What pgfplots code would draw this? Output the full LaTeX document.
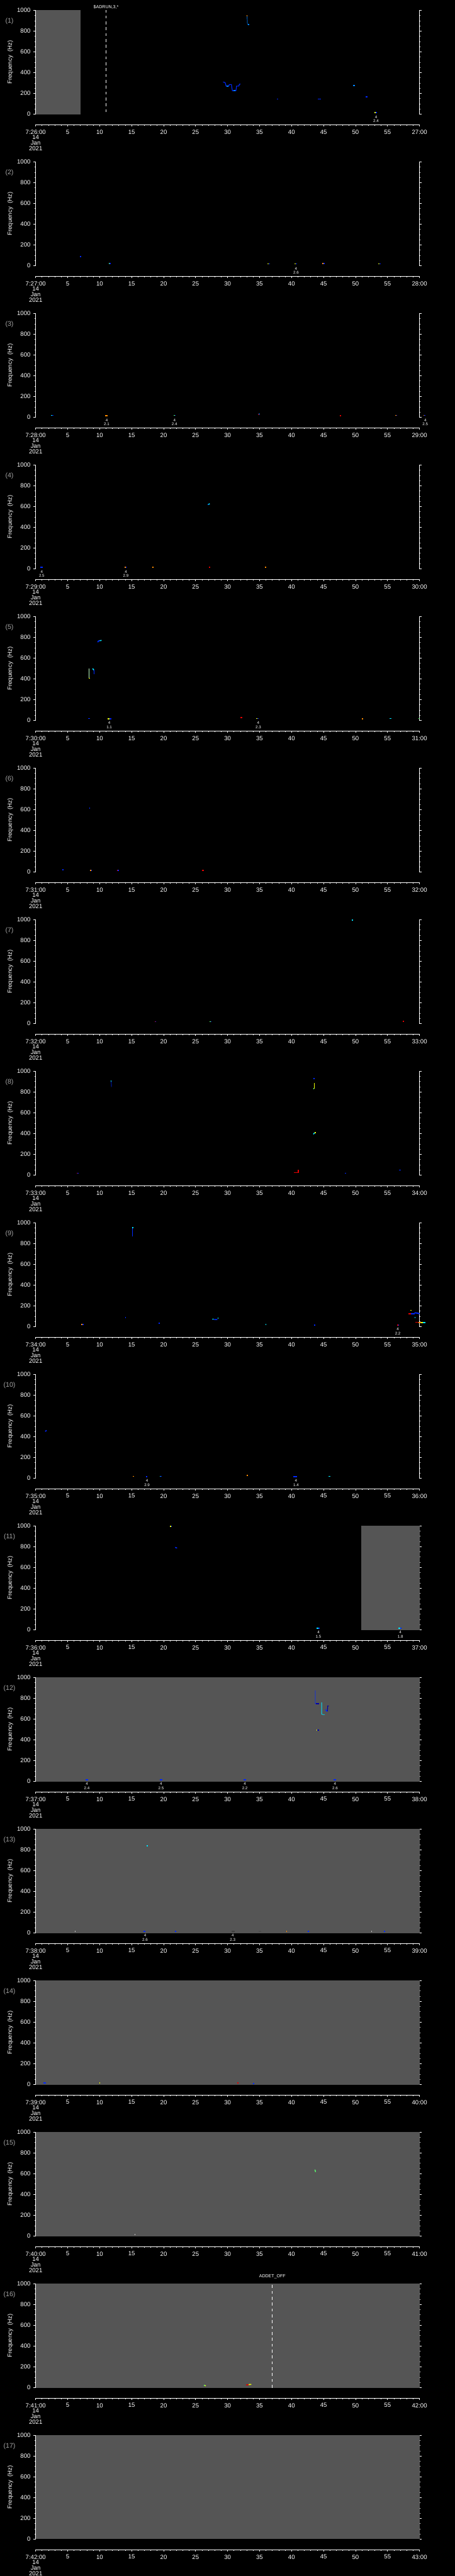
\documentclass[border=0pt]{standalone}
\usepackage{fontspec}
\setmainfont{Liberation Sans}
\usepackage{pgfplots}
\pgfplotsset{compat=1.18}
\definecolor{gray55}{RGB}{85,85,85}
\definecolor{pgray}{RGB}{165,165,165}
\definecolor{cblue}{RGB}{0,40,255}
\definecolor{cdblue}{RGB}{0,0,170}
\definecolor{clblue}{RGB}{0,130,255}
\definecolor{ccyan}{RGB}{0,230,255}
\definecolor{cgreen}{RGB}{90,255,110}
\definecolor{cyellow}{RGB}{235,255,0}
\definecolor{corange}{RGB}{255,140,0}
\definecolor{cred}{RGB}{225,0,0}
\tikzset{annot/.style={font=\fontsize{4.4}{4.7}\selectfont, text=white, align=center, anchor=north, inner sep=0pt, yshift=-1.3pt}}
\pgfplotsset{
  mainax/.style={scale only axis, width=432pt, height=117pt,
    xmin=0, xmax=60, ymin=0, ymax=1000,
    axis x line=none, axis y line=box,
    xtick=\empty, ytick={0,200,...,1000}, minor y tick num=3,
    ytick align=outside, yticklabel pos=left,
    axis line style={white, line width=0.6pt},
    every tick/.style={white, line width=0.6pt},
    major tick length=2.3pt, minor tick length=1.3pt,
    yticklabel style={font=\fontsize{6.8}{7}\selectfont, text=white, /pgf/number format/1000 sep={}},
    /pgf/number format/assume math mode=true,
    clip=false, anchor=north west,
    ylabel={Frequency\ \ (Hz)},
    every axis y label/.style={at={([xshift=-28.5pt]axis description cs:0,0.5)}, rotate=90, anchor=center, font=\fontsize{6.8}{7}\selectfont, text=white}},
  timeax/.style={scale only axis, width=432pt, height=1pt,
    xmin=0, xmax=60, ymin=0, ymax=1,
    axis x line*=bottom, axis y line=none,
    every outer x axis line/.append style={-},
    axis line style={white, line width=0.6pt, -},
    every tick/.style={white, line width=0.6pt},
    major tick length=2.3pt, minor tick length=1.3pt,
    xtick={0,5,...,60}, minor x tick num=4, xtick align=outside,
    xticklabel style={align=center, font=\fontsize{6.8}{6.2}\selectfont, text=white},
    anchor=south west},
}
\newcommand{\spk}[4]{\addplot[#1, line width=1.3pt, forget plot] coordinates {(#2,#4) (#3,#4)};}
\newcommand{\annot}[2]{\node[annot] at (axis cs:#1,0) {4\\#2};}
\newcommand{\pnum}[1]{\node[text=pgray, font=\fontsize{7.5}{8}\selectfont] at ([xshift=-29.5pt]axis description cs:0,0.893) {(#1)};}
\newcommand{\grayall}{\addplot[draw=none, fill=gray55, forget plot] coordinates {(0,1000) (60,1000)} \closedcycle;}
% #1 panel index, #2 start minute, #3 end minute, #4 content
\newcommand{\Panel}[4]{%
  \begin{axis}[mainax, at={(40.15pt,{-11.65pt-(#1-1)*170.68pt})}]
  #4
  \pnum{#1}
  \end{axis}
  \begin{axis}[timeax, at={(40.15pt,{-11.65pt-(#1-1)*170.68pt-128.75pt})},
    xticklabels={{7:#2:00\\14\\Jan\\2021},5,10,15,20,25,30,35,40,45,50,55,{#3:00}}]
  \addplot[draw=none, forget plot] coordinates {(0,0) (60,0)};
  \end{axis}}
\begin{document}
\begin{tikzpicture}
\path[use as bounding box] (0,0) rectangle (512pt,-2901pt);
\fill[black] (0,0) rectangle (512pt,-2901pt);
% ---------- panel 1
\Panel{1}{26}{27}{
  \addplot[draw=none, fill=gray55, forget plot] coordinates {(0,1000) (7.05,1000)} \closedcycle;
  \addplot[white, line width=0.5pt, dash pattern=on 3.3pt off 3.3pt] coordinates {(11,20) (11,1000)};
  \node[font=\fontsize{5}{5}\selectfont, text=white, inner sep=0pt] at ([yshift=3.8pt]axis cs:11,1000) {\$ADRUN,3,*};
  \addplot[clblue, line width=0.5pt] coordinates {(33.05,946) (33.1,864)};
  \spk{corange}{32.95}{33.05}{946}
  \spk{clblue}{33.15}{33.35}{864}
  \addplot[cblue, line width=0.8pt] coordinates {(29.3,310) (29.6,305) (29.7,290) (29.75,271) (30.2,271) (30.25,286) (30.6,286) (30.65,260) (30.75,226) (31.3,226) (31.4,271) (31.75,271) (31.85,289) (32.0,290)};
  \spk{clblue}{29.8}{30.1}{271}
  \spk{clblue}{30.9}{31.2}{226}
  \spk{cblue}{37.7}{37.9}{146}
  \spk{cblue}{44.1}{44.6}{146}
  \spk{clblue}{49.6}{49.9}{277}
  \spk{cblue}{51.6}{51.9}{169}
  \spk{cyellow}{53.0}{53.15}{14}
  \spk{cblue}{53.15}{53.3}{14}
  \annot{53.2}{2.4}
}
% ---------- panel 2
\Panel{2}{27}{28}{
  \spk{cblue}{6.9}{7.1}{90}
  \spk{cgreen}{11.4}{11.55}{21}
  \spk{cblue}{11.55}{11.7}{21}
  \spk{cyellow}{36.2}{36.4}{19}
  \spk{cblue}{36.4}{36.6}{19}
  \spk{cyellow}{40.5}{40.7}{19}
  \spk{cblue}{40.7}{40.9}{19}
  \spk{corange}{44.8}{45.0}{23}
  \spk{cblue}{45.0}{45.2}{23}
  \spk{cyellow}{53.5}{53.7}{19}
  \spk{cblue}{53.7}{53.9}{19}
  \annot{40.7}{2.6}
}
% ---------- panel 3
\Panel{3}{28}{29}{
  \spk{ccyan}{2.4}{2.6}{19}
  \spk{cblue}{2.6}{2.8}{19}
  \spk{corange}{10.9}{11.2}{15}
  \spk{cgreen}{21.6}{21.75}{19}
  \spk{cblue}{21.75}{21.9}{19}
  \addplot[cred, line width=1.1pt] coordinates {(34.8,26) (34.9,30)};
  \addplot[clblue, line width=1.1pt] coordinates {(34.9,30) (35.0,35)};
  \spk{cred}{47.5}{47.7}{15}
  \spk{corange}{56.2}{56.35}{19}
  \spk{cblue}{56.35}{56.5}{19}
  \spk{corange}{60.6}{60.75}{19}
  \spk{cblue}{60.75}{60.9}{19}
  \annot{11.1}{2.1}
  \annot{21.7}{2.4}
  \annot{60.9}{2.5}
}
% ---------- panel 4
\Panel{4}{29}{30}{
  \spk{cblue}{0.7}{1.1}{15}
  \spk{corange}{13.9}{14.05}{15}
  \spk{cblue}{14.05}{14.2}{15}
  \spk{corange}{18.2}{18.4}{15}
  \addplot[clblue, line width=1.1pt] coordinates {(26.9,619) (27.05,622)};
  \addplot[ccyan, line width=1.1pt] coordinates {(27.05,622) (27.2,628)};
  \spk{cred}{27.1}{27.3}{15}
  \spk{corange}{35.8}{36.0}{15}
  \annot{0.95}{2.5}
  \annot{14.1}{2.9}
}
% ---------- panel 5
\Panel{5}{30}{31}{
  \addplot[cgreen!40!white, line width=0.5pt] coordinates {(8.3,500) (8.3,406)};
  \spk{cyellow}{8.3}{8.5}{406}
  \addplot[ccyan, line width=1.1pt] coordinates {(8.9,500) (9.1,485)};
  \addplot[cblue, line width=0.6pt] coordinates {(9.1,485) (9.1,444)};
  \addplot[cblue, line width=1.1pt] coordinates {(9.7,753) (9.8,765) (10.0,768)};
  \addplot[ccyan, line width=1.1pt] coordinates {(10.0,768) (10.3,771)};
  \spk{cblue}{8.2}{8.5}{19}
  \spk{cyellow}{11.2}{11.5}{15}
  \spk{cblue}{11.5}{11.8}{15}
  \spk{cred}{32.0}{32.3}{26}
  \spk{cyellow}{34.5}{34.7}{19}
  \spk{cblue}{34.7}{34.9}{19}
  \spk{corange}{51.0}{51.15}{15}
  \spk{ccyan}{55.3}{55.6}{19}
  \spk{cgreen}{59.8}{60.0}{19}
  \annot{11.5}{1.1}
  \annot{34.8}{2.3}
}
% ---------- panel 6
\Panel{6}{31}{32}{
  \spk{cblue}{4.2}{4.4}{22}
  \spk{cblue}{8.35}{8.5}{615}
  \spk{corange}{8.5}{8.65}{15}
  \spk{cblue}{8.65}{8.8}{15}
  \spk{cred}{12.7}{12.85}{15}
  \spk{cblue}{12.85}{13.0}{15}
  \spk{cred}{26.0}{26.3}{15}
}
% ---------- panel 7
\Panel{7}{32}{33}{
  \spk{ccyan}{49.4}{49.6}{996}
  \spk{cred}{18.6}{18.7}{19}
  \spk{cblue}{18.7}{18.8}{19}
  \spk{cgreen}{27.2}{27.35}{19}
  \spk{cblue}{27.35}{27.5}{19}
  \spk{cred}{57.4}{57.6}{22}
}
% ---------- panel 8
\Panel{8}{33}{34}{
  \addplot[cblue, line width=0.5pt] coordinates {(11.8,910) (11.85,848)};
  \spk{ccyan}{11.7}{11.8}{905}
  \spk{cblue}{43.4}{43.6}{932}
  \addplot[cyellow, line width=0.7pt] coordinates {(43.55,887) (43.55,835)};
  \spk{cgreen}{43.4}{43.55}{835}
  \addplot[ccyan, line width=1.1pt] coordinates {(43.4,394) (43.6,407)};
  \spk{cyellow}{43.6}{43.8}{407}
  \addplot[cred, line width=0.8pt] coordinates {(40.4,24) (41.05,24) (41.05,49)};
  \spk{cred}{6.4}{6.55}{19}
  \spk{cblue}{6.55}{6.7}{19}
  \spk{cblue}{48.35}{48.5}{19}
  \spk{cblue}{56.8}{57.1}{49}
}
% ---------- panel 9
\Panel{9}{34}{35}{
  \addplot[cblue, line width=0.5pt] coordinates {(15.15,871) (15.15,953)};
  \spk{ccyan}{15.1}{15.25}{953}
  \spk{cblue}{13.95}{14.1}{89}
  \spk{corange}{7.1}{7.3}{22}
  \spk{cblue}{7.3}{7.5}{22}
  \spk{cblue}{19.2}{19.4}{32}
  \addplot[ccyan, line width=1.1pt] coordinates {(27.6,74) (27.9,74)};
  \addplot[cblue, line width=1.1pt] coordinates {(27.9,70) (28.4,69)};
  \spk{ccyan}{28.45}{28.6}{82}
  \spk{cred}{35.9}{35.97}{22}
  \spk{ccyan}{35.97}{36.05}{22}
  \spk{cblue}{43.5}{43.7}{15}
  \spk{cred}{56.5}{56.65}{15}
  \spk{cblue}{56.65}{56.8}{15}
  \spk{cyellow}{58.6}{58.8}{158}
  \spk{cred}{58.3}{58.7}{125}
  \spk{cblue}{58.7}{59.2}{125}
  \addplot[cblue, line width=1.3pt] coordinates {(59.2,134) (59.6,132) (60.0,125)};
  \spk{ccyan}{59.25}{59.35}{88}
  \spk{cred}{59.3}{59.8}{43}
  \spk{corange}{59.8}{60.2}{41}
  \spk{cyellow}{60.2}{60.5}{40}
  \spk{ccyan}{60.5}{60.9}{39}
  \annot{56.6}{2.2}
}
% ---------- panel 10
\Panel{10}{35}{36}{
  \addplot[cblue, line width=1.1pt] coordinates {(1.5,451) (1.7,461)};
  \spk{corange}{15.2}{15.4}{19}
  \spk{cblue}{17.2}{17.4}{15}
  \spk{ccyan}{19.4}{19.55}{19}
  \spk{cblue}{19.55}{19.7}{19}
  \spk{corange}{33.0}{33.2}{26}
  \spk{cblue}{40.3}{40.9}{15}
  \spk{ccyan}{45.8}{46.1}{19}
  \annot{17.4}{2.9}
  \annot{40.7}{1.4}
}
% ---------- panel 11
\Panel{11}{36}{37}{
  \addplot[draw=none, fill=gray55, forget plot] coordinates {(50.9,1000) (60,1000)} \closedcycle;
  \spk{cyellow}{21.0}{21.15}{996}
  \spk{cblue}{21.15}{21.3}{996}
  \addplot[cblue, line width=1.1pt] coordinates {(21.8,794) (22.1,787)};
  \spk{ccyan}{43.9}{44.15}{14}
  \spk{cblue}{44.15}{44.4}{14}
  \spk{ccyan}{56.7}{56.95}{14}
  \spk{cblue}{56.95}{57.2}{14}
  \annot{44.2}{1.5}
  \annot{57.0}{1.8}
}
% ---------- panel 12
\Panel{12}{37}{38}{
  \grayall
  \addplot[cblue, line width=0.6pt] coordinates {(43.7,876) (43.7,754) (43.8,746)};
  \spk{cdblue}{43.8}{44.3}{746}
  \addplot[ccyan, line width=0.6pt] coordinates {(44.7,761) (44.7,647) (44.9,643) (45.2,643)};
  \addplot[cblue, line width=1.1pt] coordinates {(45.3,690) (45.6,673)};
  \addplot[cdblue, line width=0.8pt] coordinates {(45.6,676) (45.65,726) (45.8,726)};
  \spk{cyellow}{43.9}{44.05}{494}
  \spk{cdblue}{44.05}{44.3}{494}
  \spk{cblue}{7.8}{8.2}{14}
  \spk{cblue}{19.4}{19.8}{14}
  \spk{cblue}{32.5}{32.9}{14}
  \spk{cblue}{46.6}{47.0}{14}
  \annot{8.0}{2.4}
  \annot{19.6}{2.5}
  \annot{32.7}{2.2}
  \annot{46.8}{2.6}
}
% ---------- panel 13
\Panel{13}{38}{39}{
  \grayall
  \spk{ccyan}{17.3}{17.5}{837}
  \spk{lightgray}{6.1}{6.25}{15}
  \spk{cblue}{16.9}{17.1}{15}
  \spk{cblue}{21.8}{22.0}{15}
  \spk{darkgray}{30.6}{31.1}{15}
  \spk{black!70}{34.9}{35.2}{15}
  \spk{corange}{39.15}{39.3}{15}
  \spk{cblue}{42.55}{42.7}{15}
  \spk{lightgray}{52.45}{52.6}{15}
  \spk{cblue}{54.45}{54.6}{15}
  \annot{17.1}{2.6}
  \annot{30.8}{2.3}
}
% ---------- panel 14
\Panel{14}{39}{40}{
  \grayall
  \spk{cblue}{1.2}{1.6}{14}
  \spk{cyellow}{9.95}{10.1}{14}
  \spk{cred}{31.5}{31.7}{14}
  \spk{cblue}{34.0}{34.2}{10}
}
% ---------- panel 15
\Panel{15}{40}{41}{
  \grayall
  \addplot[cgreen, line width=1pt] coordinates {(43.65,640) (43.75,617)};
  \spk{lightgray}{15.45}{15.6}{14}
}
% ---------- panel 16
\Panel{16}{41}{42}{
  \grayall
  \addplot[white, line width=0.5pt, dash pattern=on 3.3pt off 3.3pt] coordinates {(37.0,0) (37.0,1000)};
  \node[font=\fontsize{5}{5}\selectfont, text=white, inner sep=0pt] at ([yshift=8.5pt]axis cs:37.0,1000) {ADDET\_OFF};
  \addplot[cgreen, line width=1.1pt] coordinates {(26.3,24) (26.45,20)};
  \addplot[cyellow, line width=1.1pt] coordinates {(26.45,20) (26.6,18)};
  \addplot[cred, line width=1.1pt] coordinates {(32.9,26) (33.3,28)};
  \addplot[cyellow, line width=1.1pt] coordinates {(33.3,30) (33.7,31)};
}
% ---------- panel 17
\Panel{17}{42}{43}{
  \grayall
}
\end{tikzpicture}
\end{document}
